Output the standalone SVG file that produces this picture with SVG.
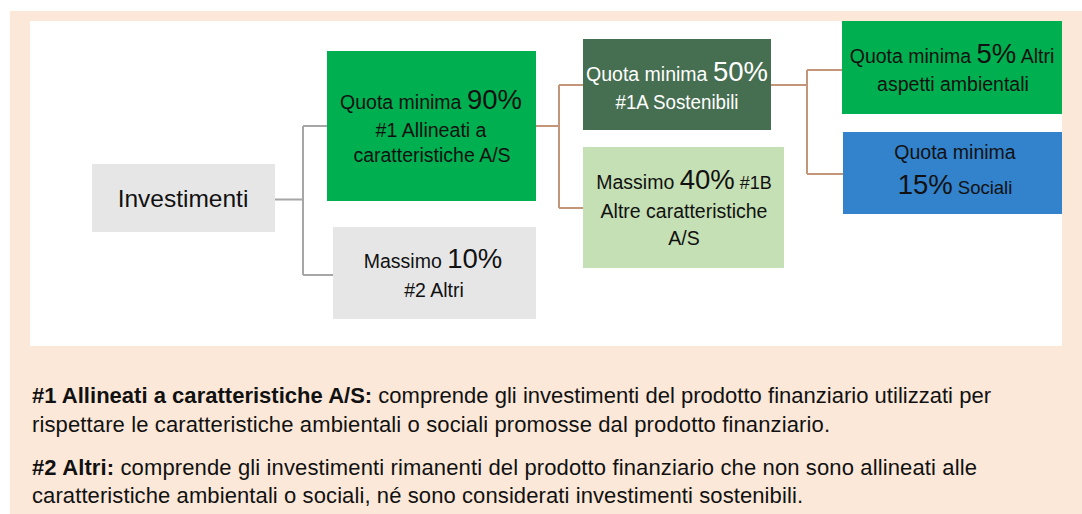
<svg xmlns="http://www.w3.org/2000/svg" width="1082" height="514" viewBox="0 0 1082 514">
<defs>
<style>
text{font-family:"Liberation Sans",Arial,sans-serif;fill:#111;}
.s{font-size:19.5px;}
.b{font-size:27.5px;}
.w{fill:#fff;}
.m{text-anchor:middle;}
.cg{fill:none;stroke:#a6a6a6;stroke-width:2;}
.cb{fill:none;stroke:#c3967a;stroke-width:2;}
.note{font-size:22px;}
</style>
</defs>
<rect x="0" y="0" width="1082" height="514" fill="#ffffff"/>
<rect x="10" y="11" width="1072" height="503" fill="#fbe8d8"/>
<rect x="30" y="21" width="1032" height="325" fill="#ffffff"/>

<g id="connectors">
<path class="cg" d="M275 199.5 H303 M303 126 V275 M303 126 H328 M303 275 H333"/>
<path class="cb" d="M536 126 H559 M559 85 V208 M559 85 H583 M559 208 H583"/>
<path class="cb" d="M771 85 H807 M807 70 V174 M807 70 H843 M807 174 H844"/>
</g>

<g id="investimenti">
<rect x="92" y="164" width="183" height="68" fill="#e6e6e6"/>
<text x="183" y="207" class="m" style="font-size:24.5px">Investimenti</text>
</g>

<g id="n90">
<rect x="327" y="51" width="209" height="150" fill="#00b050"/>
<text x="431" y="109" class="m"><tspan class="s">Quota minima </tspan><tspan class="b">90%</tspan></text>
<text x="431" y="137" class="m s" textLength="111" lengthAdjust="spacingAndGlyphs">#1 Allineati a</text>
<text x="432" y="162" class="m s">caratteristiche A/S</text>
</g>

<g id="n10">
<rect x="333" y="227" width="203" height="92" fill="#e6e6e6"/>
<text x="433" y="268" class="m"><tspan class="s">Massimo </tspan><tspan class="b">10%</tspan></text>
<text x="434" y="297" class="m s">#2 Altri</text>
</g>

<g id="n50">
<rect x="583" y="39" width="188" height="91" fill="#466e50"/>
<text x="677" y="81" class="m w"><tspan class="s w">Quota minima </tspan><tspan class="b w">50%</tspan></text>
<text x="677" y="109" class="m s w" textLength="123" lengthAdjust="spacingAndGlyphs">#1A Sostenibili</text>
</g>

<g id="n40">
<rect x="583" y="147" width="201" height="121" fill="#c5e0b4"/>
<text x="684" y="189" class="m"><tspan class="s">Massimo </tspan><tspan class="b">40%</tspan><tspan style="font-size:18px"> #1B</tspan></text>
<text x="684" y="218" class="m s">Altre caratteristiche</text>
<text x="684" y="245" class="m s">A/S</text>
</g>

<g id="n5">
<rect x="842" y="21" width="220" height="93" fill="#00b050"/>
<text x="952" y="63" class="m"><tspan class="s">Quota minima </tspan><tspan class="b">5%</tspan><tspan class="s"> Altri</tspan></text>
<text x="953" y="91" class="m s">aspetti ambientali</text>
</g>

<g id="n15">
<rect x="843" y="132" width="219" height="82" fill="#3282cc"/>
<text x="955" y="159" class="m s">Quota minima</text>
<text x="955" y="194" class="m"><tspan class="b">15%</tspan><tspan style="font-size:18.5px"> Sociali</tspan></text>
</g>

<g id="notes">
<text x="32" y="403" class="note" textLength="959"><tspan font-weight="bold">#1 Allineati a caratteristiche A/S:</tspan> comprende gli investimenti del prodotto finanziario utilizzati per</text>
<text x="32" y="432" class="note" textLength="798">rispettare le caratteristiche ambientali o sociali promosse dal prodotto finanziario.</text>
<text x="32" y="475" class="note" textLength="945"><tspan font-weight="bold">#2 Altri:</tspan> comprende gli investimenti rimanenti del prodotto finanziario che non sono allineati alle</text>
<text x="32" y="503" class="note" textLength="771">caratteristiche ambientali o sociali, né sono considerati investimenti sostenibili.</text>
</g>
</svg>
